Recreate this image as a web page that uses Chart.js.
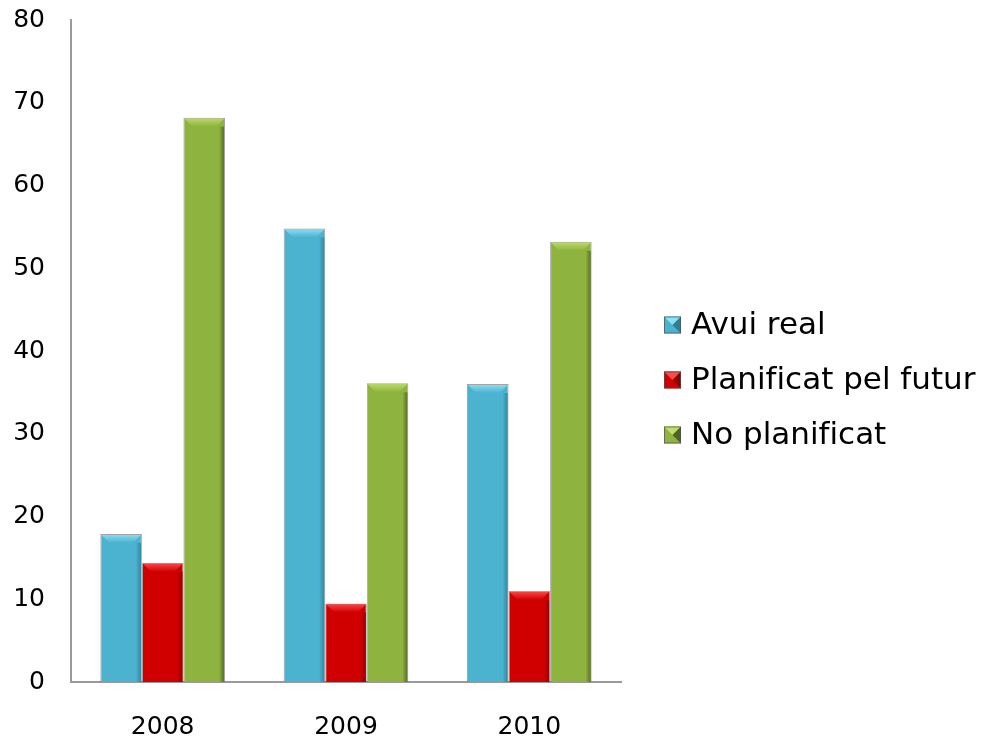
<!DOCTYPE html>
<html lang="ca">
<head>
<meta charset="UTF-8">
<title>Avui real / Planificat</title>
<script src="https://cdn.jsdelivr.net/npm/chart.js"></script>
<style>
    html, body { margin: 0; padding: 0; background: #fff; }
    #wrap { width: 987px; height: 739px; }
</style>
</head>
<body>
<div id="wrap"><canvas id="barChart" width="987" height="739"></canvas></div>
<script>
    // values
    const years = ["2008", "2009", "2010"];
    const avuiReal = [17.9, 54.8, 36.0];
    const planificat = [14.4, 9.5, 11.0];
    const noPlanificat = [68.2, 36.1, 53.2];
    const yTicks = [0, 10, 20, 30, 40, 50, 60, 70, 80];

    const FONT = "'DejaVu Sans', Verdana, sans-serif";

    // light top facet + dark right edge, like the office 3D bevel
    const bevel = {
        id: "bevel",
        afterDatasetsDraw(chart) {
            const ctx = chart.ctx;
            chart.data.datasets.forEach((ds, i) => {
                chart.getDatasetMeta(i).data.forEach(bar => {
                    const l = bar.x - bar.width / 2, r = bar.x + bar.width / 2;
                    const t = bar.y, b = bar.base, d = 9;
                    ctx.save();
                    let g = ctx.createLinearGradient(0, t, 0, t + d);
                    g.addColorStop(0, ds.bevelTop);
                    g.addColorStop(1, ds.backgroundColor);
                    ctx.fillStyle = g;
                    ctx.beginPath();
                    ctx.moveTo(l + 1, t + 1);
                    ctx.lineTo(r - 1, t + 1);
                    ctx.lineTo(r - d, t + d);
                    ctx.lineTo(l + d, t + d);
                    ctx.closePath();
                    ctx.fill();
                    g = ctx.createLinearGradient(r - 6, 0, r, 0);
                    g.addColorStop(0, ds.backgroundColor);
                    g.addColorStop(1, ds.bevelSide);
                    ctx.fillStyle = g;
                    ctx.fillRect(r - 6, t + d, 5, b - t - d);
                    ctx.restore();
                });
            });
        }
    };

    // legend on the right, drawn from the dataset labels/colours
    const sideLegend = {
        id: "sideLegend",
        afterDraw(chart, args, opts) {
            const ctx = chart.ctx;
            const x = chart.chartArea.right + opts.gap;
            chart.data.datasets.forEach((ds, i) => {
                const cy = opts.top + i * opts.rowStep;
                const s = opts.box;
                ctx.save();
                ctx.fillStyle = ds.backgroundColor;
                ctx.fillRect(x, cy - s / 2, s, s);
                ctx.fillStyle = ds.bevelTop;
                ctx.beginPath();
                ctx.moveTo(x, cy - s / 2);
                ctx.lineTo(x + s, cy - s / 2);
                ctx.lineTo(x + s / 2, cy);
                ctx.closePath();
                ctx.fill();
                ctx.fillStyle = ds.bevelSide;
                ctx.beginPath();
                ctx.moveTo(x + s, cy - s / 2);
                ctx.lineTo(x + s, cy + s / 2);
                ctx.lineTo(x + s / 2, cy);
                ctx.closePath();
                ctx.fill();
                ctx.strokeStyle = "rgba(80,80,80,0.7)";
                ctx.lineWidth = 1;
                ctx.strokeRect(x + 0.5, cy - s / 2 + 0.5, s - 1, s - 1);
                ctx.fillStyle = "#000";
                ctx.font = opts.fontSize + "px " + FONT;
                ctx.textBaseline = "middle";
                ctx.fillText(ds.label, x + s + opts.textGap, cy + 1);
                ctx.restore();
            });
        }
    };

    function series(label, data, color, top, side) {
        return {
            label: label,
            data: data,
            backgroundColor: color,
            borderColor: "rgba(90,90,90,0.55)",
            borderWidth: 1,
            bevelTop: top,
            bevelSide: side
        };
    }

    new Chart(document.getElementById("barChart"), {
        type: "bar",
        data: {
            labels: years,
            datasets: [
                series("Avui real", avuiReal, "#4BB2CF", "#8EE0F5", "#2E7F96"),
                series("Planificat pel futur", planificat, "#D00000", "#FF4A4A", "#8A0000"),
                series("No planificat", noPlanificat, "#8EB33E", "#BEDF6A", "#4F6228")
            ]
        },
        options: {
            responsive: false,
            animation: false,
            devicePixelRatio: 1,
            layout: { padding: { top: 20, right: 366, left: 0, bottom: 0 } },
            datasets: { bar: { categoryPercentage: 0.68, barPercentage: 1 } },
            plugins: {
                legend: { display: false },
                tooltip: { enabled: false },
                sideLegend: { gap: 43, top: 325, rowStep: 55, box: 17, textGap: 10, fontSize: 31 }
            },
            scales: {
                x: {
                    grid: { display: false, drawTicks: false },
                    border: { color: "#9A9A9A", width: 2 },
                    ticks: { color: "#000", font: { family: FONT, size: 25 }, padding: 30 },
                    afterFit(scale) { scale.height = 57; }
                },
                y: {
                    min: 0,
                    max: 80,
                    afterBuildTicks(scale) { scale.ticks = yTicks.map(v => ({ value: v })); },
                    // tick length gives the gap, so the top padding stays small
                    grid: { display: false, drawTicks: true, tickLength: 24 },
                    border: { color: "#9A9A9A", width: 2 },
                    ticks: { color: "#000", font: { family: FONT, size: 25 }, padding: 2 },
                    afterFit(scale) { scale.width = 71; }
                }
            }
        },
        plugins: [bevel, sideLegend]
    });
</script>
</body>
</html>
